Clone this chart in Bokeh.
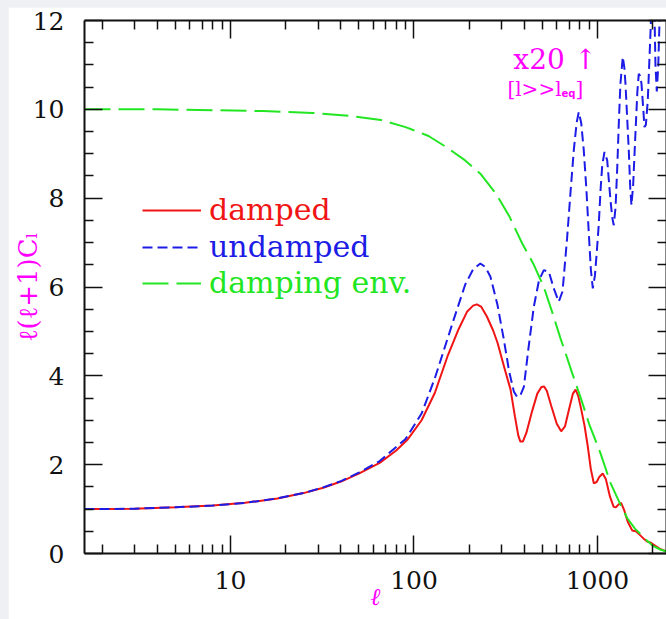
from bokeh.plotting import figure
from bokeh.models import (LinearAxis, LogAxis, Range1d, Legend, LegendItem, Label,
                          FixedTicker, PrintfTickFormatter)
from bokeh.layouts import column
from bokeh.embed import file_html
from bokeh.resources import INLINE

# ---------------- data ----------------
l_damped = [1.6, 2, 3, 5, 8, 12, 18, 25, 32, 40, 50, 65, 80, 92, 110, 130, 152, 175, 195, 210,
            220, 232, 250, 270, 285, 310, 336, 355, 370, 380, 392, 410, 440, 470, 495, 512, 530,
            560, 600, 634, 665, 700, 735, 760, 785, 815, 850, 885, 920, 955, 990, 1025, 1068,
            1110, 1170, 1225, 1260, 1300, 1345, 1400, 1460, 1545, 1620, 1700, 1780, 1865, 1940,
            2020, 2200, 2400]
c_damped = [1.00, 1.00, 1.01, 1.04, 1.08, 1.14, 1.24, 1.36, 1.48, 1.62, 1.80, 2.04, 2.32, 2.56,
            3.00, 3.62, 4.43, 5.05, 5.45, 5.58, 5.61, 5.56, 5.33, 5.02, 4.75, 4.20, 3.69, 3.08,
            2.66, 2.52, 2.52, 2.72, 3.20, 3.60, 3.75, 3.76, 3.66, 3.32, 2.92, 2.75, 2.86, 3.25,
            3.60, 3.69, 3.55, 3.25, 2.88, 2.42, 1.90, 1.58, 1.61, 1.73, 1.80, 1.68, 1.28, 1.05,
            1.04, 1.10, 1.14, 0.97, 0.72, 0.52, 0.50, 0.42, 0.34, 0.27, 0.25, 0.20, 0.10, 0.04]

l_undamped = [1.6, 2, 3, 5, 8, 12, 18, 25, 32, 40, 50, 65, 80, 90, 110, 130, 162, 190, 210, 230,
              245, 261, 285, 309, 330, 350, 365, 380, 397, 420, 450, 480, 510, 543, 580, 615,
              645, 683, 715, 743, 770, 791, 815, 842, 870, 897, 920, 943, 968, 992, 1016, 1040,
              1062, 1092, 1130, 1177, 1205, 1227, 1255, 1282, 1310, 1334, 1374, 1400, 1421,
              1452, 1481, 1510, 1532, 1565, 1610, 1650, 1679, 1710, 1737, 1770, 1804, 1835,
              1880, 1944, 1990, 2030, 2070, 2105, 2145, 2200, 2300, 2400]
c_undamped = [1.00, 1.00, 1.01, 1.04, 1.08, 1.14, 1.24, 1.36, 1.49, 1.63, 1.82, 2.08, 2.40, 2.58,
              3.15, 3.95, 5.18, 6.05, 6.40, 6.53, 6.45, 6.23, 5.60, 4.81, 4.10, 3.65, 3.52, 3.56,
              3.75, 4.60, 5.56, 6.15, 6.38, 6.34, 5.95, 5.67, 5.90, 7.10, 8.20, 9.08, 9.70, 9.94,
              9.70, 9.08, 8.20, 7.21, 6.40, 5.97, 6.25, 6.80, 7.40, 8.20, 8.75, 9.04, 8.85, 7.96,
              7.55, 7.39, 7.80, 8.70, 9.80, 10.58, 11.18, 10.95, 10.58, 9.80, 9.08, 8.20, 7.84,
              8.30, 9.45, 10.40, 10.80, 10.75, 10.58, 10.10, 9.60, 9.65, 10.20, 11.70, 12.80,
              12.90, 11.00, 10.40, 11.00, 12.60, 13.50, 13.50]

l_env = [1.6, 4, 8, 15, 28, 45, 66, 90, 120, 150, 190, 230, 280, 330, 389, 450, 510, 570, 628,
         680, 728, 808, 900, 1038, 1177, 1334, 1452, 1600, 1715, 1850, 2027, 2200, 2400]
c_env = [10.00, 10.00, 9.98, 9.96, 9.92, 9.85, 9.76, 9.60, 9.40, 9.15, 8.85, 8.55, 8.10, 7.60,
         6.98, 6.50, 6.00, 5.40, 4.85, 4.43, 4.06, 3.52, 2.92, 2.26, 1.59, 1.10, 0.80, 0.56,
         0.44, 0.30, 0.16, 0.09, 0.04]

x_major = [10, 100, 1000]
x_minor = [2, 3, 4, 5, 6, 7, 8, 9, 20, 30, 40, 50, 60, 70, 80, 90,
           200, 300, 400, 500, 600, 700, 800, 900, 2000]
y_major = [0, 2, 4, 6, 8, 10, 12]
y_minor = [0.5, 1, 1.5, 2.5, 3, 3.5, 4.5, 5, 5.5, 6.5, 7, 7.5, 8.5, 9, 9.5, 10.5, 11, 11.5]

legend_labels = ["damped", "undamped", "damping env."]
x_title = "ℓ"
y_title = "ℓ(ℓ+1)Cₗ"

RED = "#f01414"
BLUE = "#1c1ce6"
GREEN = "#22e622"
MAGENTA = "#ff00ff"
SERIF = "DejaVu Serif"

p = figure(width=658, height=612, x_axis_type="log",
           x_range=Range1d(1.6, 2378), y_range=Range1d(0, 12),
           output_backend="svg", toolbar_location=None,
           min_border_left=76, min_border_top=13, min_border_bottom=66, min_border_right=0,
           x_axis_location=None, y_axis_location=None)
p.grid.visible = False
p.outline_line_color = None
p.background_fill_color = "white"
p.border_fill_color = "white"

xt = FixedTicker(ticks=x_major, minor_ticks=x_minor)
yt = FixedTicker(ticks=y_major, minor_ticks=y_minor)


def style(ax, labels, ticks):
    ax.axis_line_color = "#111111"
    ax.axis_line_width = 2
    ax.major_tick_line_color = "#111111"
    ax.minor_tick_line_color = "#111111"
    ax.major_tick_line_width = 1.5
    ax.minor_tick_line_width = 1.5
    ax.major_tick_in = 18
    ax.major_tick_out = 0
    ax.minor_tick_in = 9
    ax.minor_tick_out = 0
    if labels:
        ax.major_label_text_font = SERIF
        ax.major_label_text_font_size = "25px"
        ax.major_label_text_color = "#111111"
    else:
        ax.major_label_overrides = {t: "" for t in ticks}
        ax.major_label_text_font_size = "1px"
        ax.major_label_standoff = 0


bottom = LogAxis(ticker=xt, formatter=PrintfTickFormatter(format="%d"))
style(bottom, True, x_major)
bottom.major_label_standoff = 17
bottom.axis_label = x_title
bottom.axis_label_text_font = SERIF
bottom.axis_label_text_font_style = "italic"
bottom.axis_label_text_font_size = "24px"
bottom.axis_label_text_color = MAGENTA
bottom.axis_label_standoff = -9

top = LogAxis(ticker=xt, formatter=PrintfTickFormatter(format="%d"))
style(top, False, x_major)

left = LinearAxis(ticker=yt)
style(left, True, y_major)
left.major_label_standoff = 20
left.axis_label = y_title
left.axis_label_text_font = SERIF
left.axis_label_text_font_style = "normal"
left.axis_label_text_font_size = "26px"
left.axis_label_text_color = MAGENTA
left.axis_label_standoff = -13

right = LinearAxis(ticker=yt)
style(right, False, y_major)

p.add_layout(bottom, "below")
p.add_layout(top, "above")
p.add_layout(left, "left")
p.add_layout(right, "right")

r_red = p.line(l_damped, c_damped, line_color=RED, line_width=2)
r_blue = p.line(l_undamped, c_undamped, line_color=BLUE, line_width=2, line_dash="10 5")
r_green = p.line(l_env, c_env, line_color=GREEN, line_width=2, line_dash="26 8")

# legends: one per entry so each label keeps its own colour
for lab, rend, col, vy in zip(legend_labels, [r_red, r_blue, r_green],
                              [RED, BLUE, GREEN], [326, 289, 253]):
    lg = Legend(items=[LegendItem(label=lab, renderers=[rend])], location=(58, vy),
                glyph_width=59, glyph_height=20, label_standoff=8, padding=0, margin=0,
                spacing=0, border_line_color=None, background_fill_alpha=0,
                label_text_font=SERIF, label_text_font_size="30px", label_text_color=col)
    p.add_layout(lg)

# top-right note
p.add_layout(Label(x=348, y=11.12, text="x20 ↑", text_font=SERIF, text_font_size="28px",
                   text_color=MAGENTA, text_baseline="alphabetic"))
p.add_layout(Label(x=323, y=10.45, text="[l>>l", text_font=SERIF, text_font_size="20px",
                   text_color=MAGENTA, text_baseline="alphabetic"))
p.add_layout(Label(x=637, y=10.36, text="eq", text_font="DejaVu Sans", text_font_size="10px",
                   text_font_style="bold", text_color=MAGENTA, text_baseline="alphabetic"))
p.add_layout(Label(x=759, y=10.45, text="]", text_font=SERIF, text_font_size="20px",
                   text_color=MAGENTA, text_baseline="alphabetic"))

page = column(p, styles={"background-color": "#eef0f4", "padding-top": "7px",
                         "padding-left": "8px"})

open("out.html", "w").write(file_html(page, INLINE))
